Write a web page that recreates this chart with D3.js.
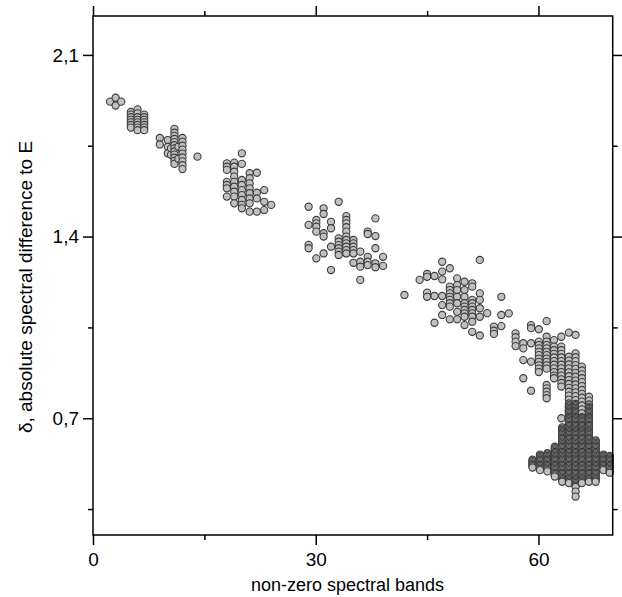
<!DOCTYPE html>
<html>
<head>
<meta charset="utf-8">
<script src="https://cdn.jsdelivr.net/npm/d3@7"></script>
<style>
  body { margin: 0; background: #fff; }
  svg { display: block; font-family: "Liberation Sans", Arial, sans-serif; }
</style>
</head>
<body>
<div id="chart"></div>
<script>
// axis ticks (value space)
const xMajorTicks = [0, 30, 60];
const xMinorTicks = [15, 45];
const yMajorTicks = [0.7, 1.4, 2.1];
const yMinorTicks = [0.35, 1.05, 1.75];

// each entry: [number of non-zero bands, [delta values stacked at that band]]
const bandsLow = [
  [2.3, [1.92]],
  [3.05, [1.935, 1.905]],
  [3.8, [1.92]],
  [5.1, [1.88, 1.87, 1.86, 1.85, 1.84, 1.83, 1.82]],
  [6.0, [1.89, 1.875, 1.86, 1.85, 1.84, 1.83, 1.82, 1.81]],
  [6.9, [1.87, 1.86, 1.85, 1.84, 1.83, 1.82, 1.81]],
  [9.0, [1.78, 1.755]],
  [10.07, [1.772, 1.746, 1.721]],
  [10.5, [1.74, 1.715]],
  [10.97, [1.815, 1.8, 1.788, 1.776, 1.764, 1.752, 1.74, 1.728, 1.716, 1.704, 1.692, 1.68]],
  [11.5, [1.746, 1.7]],
  [12.05, [1.78, 1.765, 1.75, 1.735, 1.72, 1.705, 1.69, 1.675, 1.66]],
  [14.07, [1.708]]
];

const bandsTwenty = [
  [18.03, [1.682, 1.669, 1.657, 1.611, 1.599, 1.586, 1.554]],
  [19.02, [1.685, 1.669, 1.65, 1.631, 1.611, 1.592, 1.573, 1.554, 1.528]],
  [20.05, [1.721, 1.68, 1.618, 1.599, 1.579, 1.56, 1.541, 1.522, 1.509]],
  [21.1, [1.644, 1.625, 1.605, 1.586, 1.567, 1.547, 1.528, 1.496]],
  [22.07, [1.646, 1.569, 1.547, 1.496]],
  [23.06, [1.579, 1.534, 1.502]],
  [24.0, [1.522]]
];

const bandsThirty = [
  [29.04, [1.515, 1.445, 1.368, 1.355]],
  [30.08, [1.464, 1.451, 1.438, 1.419, 1.316]],
  [31.06, [1.509, 1.487, 1.413, 1.4, 1.335]],
  [32.06, [1.457, 1.432, 1.361, 1.271]],
  [33.09, [1.534, 1.393, 1.38, 1.367, 1.355, 1.342, 1.329]],
  [34.12, [1.479, 1.464, 1.451, 1.436, 1.419, 1.4, 1.387, 1.374, 1.361, 1.348, 1.335]],
  [35.08, [1.387, 1.374, 1.361, 1.348, 1.335, 1.299]],
  [36.0, [1.342, 1.303, 1.284, 1.233]],
  [37.0, [1.419, 1.41, 1.322, 1.303, 1.29]],
  [38.04, [1.47, 1.402, 1.355, 1.297, 1.282]],
  [39.07, [1.322, 1.287]]
];

const bandsFifty = [
  [41.95, [1.175]],
  [44.0, [1.233]],
  [45.0, [1.256, 1.245, 1.184, 1.168]],
  [46.0, [1.248, 1.171, 1.068]],
  [47.03, [1.303, 1.265, 1.235, 1.171, 1.136, 1.098]],
  [48.06, [1.278, 1.207, 1.194, 1.181, 1.168, 1.156, 1.143, 1.13, 1.081]],
  [49.05, [1.239, 1.213, 1.194, 1.168, 1.143, 1.11, 1.081]],
  [50.04, [1.226, 1.194, 1.168, 1.143, 1.13, 1.117, 1.104, 1.091, 1.059]],
  [51.08, [1.22, 1.207, 1.156, 1.143, 1.13, 1.117, 1.104, 1.091, 1.072, 1.033]],
  [52.1, [1.31, 1.181, 1.156, 1.124, 1.091, 1.019]],
  [53.1, [1.105]],
  [54.0, [1.053, 1.037, 1.025]],
  [55.0, [1.168, 1.098, 1.055]],
  [56.0, [1.104]]
];

const bandsSixtyUpper = [
  [56.92, [1.027, 1.012, 0.995, 0.978]],
  [57.96, [0.989, 0.969, 0.924, 0.854]],
  [59.0, [1.059, 1.047, 0.989, 0.918, 0.806]],
  [60.05, [1.043, 0.995, 0.982, 0.969, 0.956, 0.943, 0.93, 0.917, 0.904, 0.891, 0.878]],
  [61.1, [1.074, 1.014, 0.995, 0.982, 0.969, 0.956, 0.943, 0.93, 0.917, 0.904, 0.891, 0.828, 0.815, 0.802, 0.789, 0.777]],
  [62.1, [1.001, 0.976, 0.962, 0.948, 0.934, 0.92, 0.906, 0.892, 0.878, 0.864, 0.854]],
  [63.08, [1.014, 0.976, 0.962, 0.948, 0.934, 0.92, 0.906, 0.892, 0.878, 0.864, 0.85, 0.836, 0.822, 0.7]]
];

const bandsSixtyDense = [
  [59.2, [0.54, 0.535, 0.53, 0.525, 0.52, 0.515, 0.51]],
  [60.2, [0.56, 0.555, 0.55, 0.545, 0.54, 0.535, 0.53, 0.525, 0.52, 0.515, 0.51, 0.505, 0.5]],
  [61.2, [0.565, 0.56, 0.555, 0.55, 0.545, 0.54, 0.535, 0.53, 0.525, 0.52, 0.515, 0.51, 0.505, 0.5, 0.495]],
  [62.2, [0.59, 0.585, 0.58, 0.575, 0.57, 0.565, 0.56, 0.555, 0.55, 0.545, 0.54, 0.535, 0.53, 0.525, 0.52,
          0.515, 0.51, 0.505, 0.5, 0.495, 0.49, 0.485, 0.48, 0.475]],
  [63.2, [0.665, 0.66, 0.655, 0.65, 0.645, 0.64, 0.635, 0.63, 0.625, 0.62, 0.615, 0.61, 0.605, 0.6, 0.595,
          0.59, 0.585, 0.58, 0.575, 0.57, 0.565, 0.56, 0.555, 0.55, 0.545, 0.54, 0.535, 0.53, 0.525, 0.52,
          0.515, 0.51, 0.505, 0.5, 0.495, 0.49, 0.485, 0.48, 0.475, 0.47, 0.465, 0.46, 0.455]],
  [64.1, [1.03, 0.937, 0.922, 0.907, 0.892, 0.877, 0.862, 0.847, 0.832, 0.817, 0.802, 0.787, 0.772, 0.757,
          0.75, 0.745, 0.74, 0.735, 0.73, 0.725, 0.72, 0.715, 0.71, 0.705, 0.7, 0.695, 0.69, 0.685, 0.68,
          0.675, 0.67, 0.665, 0.66, 0.655, 0.65, 0.645, 0.64, 0.635, 0.63, 0.625, 0.62, 0.615, 0.61, 0.605,
          0.6, 0.595, 0.59, 0.585, 0.58, 0.575, 0.57, 0.565, 0.56, 0.555, 0.55, 0.545, 0.54, 0.535, 0.53,
          0.525, 0.52, 0.515, 0.51, 0.505, 0.5, 0.495, 0.49, 0.485, 0.48, 0.475, 0.47, 0.465, 0.46, 0.455, 0.45]],
  [65.0, [1.021, 0.95, 0.935, 0.92, 0.905, 0.89, 0.875, 0.86, 0.845, 0.83, 0.815, 0.8, 0.785, 0.77, 0.755,
          0.75, 0.745, 0.74, 0.735, 0.73, 0.725, 0.72, 0.715, 0.71, 0.705, 0.7, 0.695, 0.69, 0.685, 0.68,
          0.675, 0.67, 0.665, 0.66, 0.655, 0.65, 0.645, 0.64, 0.635, 0.63, 0.625, 0.62, 0.615, 0.61, 0.605,
          0.6, 0.595, 0.59, 0.585, 0.58, 0.575, 0.57, 0.565, 0.56, 0.555, 0.55, 0.545, 0.54, 0.535, 0.53,
          0.525, 0.52, 0.515, 0.51, 0.505, 0.5, 0.495, 0.49, 0.485, 0.48, 0.475, 0.47, 0.465, 0.46, 0.455,
          0.45, 0.445, 0.44, 0.435, 0.417, 0.398]],
  [65.85, [0.899, 0.884, 0.869, 0.854, 0.839, 0.824, 0.809, 0.794, 0.779, 0.764, 0.749, 0.734, 0.719, 0.704,
           0.7, 0.695, 0.69, 0.685, 0.68, 0.675, 0.67, 0.665, 0.66, 0.655, 0.65, 0.645, 0.64, 0.635, 0.63,
           0.625, 0.62, 0.615, 0.61, 0.605, 0.6, 0.595, 0.59, 0.585, 0.58, 0.575, 0.57, 0.565, 0.56, 0.555,
           0.55, 0.545, 0.54, 0.535, 0.53, 0.525, 0.52, 0.515, 0.51, 0.505, 0.5, 0.495, 0.49, 0.485, 0.48,
           0.475, 0.47, 0.465, 0.46, 0.455, 0.45]],
  [66.8, [0.783, 0.768, 0.753, 0.745, 0.74, 0.735, 0.73, 0.725, 0.72, 0.715, 0.71, 0.705, 0.7, 0.695, 0.69,
          0.685, 0.68, 0.675, 0.67, 0.665, 0.66, 0.655, 0.65, 0.645, 0.64, 0.635, 0.63, 0.625, 0.62, 0.615,
          0.61, 0.605, 0.6, 0.595, 0.59, 0.585, 0.58, 0.575, 0.57, 0.565, 0.56, 0.555, 0.55, 0.545, 0.54,
          0.535, 0.53, 0.525, 0.52, 0.515, 0.51, 0.505, 0.5, 0.495, 0.49, 0.485, 0.48, 0.475, 0.47, 0.465,
          0.46, 0.455]],
  [67.7, [0.615, 0.61, 0.605, 0.6, 0.595, 0.59, 0.585, 0.58, 0.575, 0.57, 0.565, 0.56, 0.555, 0.55, 0.545,
          0.54, 0.535, 0.53, 0.525, 0.52, 0.515, 0.51, 0.505, 0.5, 0.495, 0.49, 0.485, 0.48, 0.475, 0.47,
          0.465, 0.46, 0.455]],
  [68.75, [0.56, 0.555, 0.55, 0.545, 0.54, 0.535, 0.53, 0.525, 0.52, 0.515, 0.51, 0.505, 0.5]],
  [69.6, [0.555, 0.55, 0.545, 0.54, 0.535, 0.53, 0.525, 0.52, 0.515, 0.51, 0.505, 0.5, 0.495, 0.49]]
];

const xTitle = "non-zero spectral bands";
const yTitle = "\u03b4, absolute spectral difference to E";

const width = 622;
const height = 597;
const margin = { top: 16, right: 9.3, bottom: 62, left: 93 };

const svg = d3.select("#chart")
  .append("svg")
  .attr("width", width)
  .attr("height", height);

const x = d3.scaleLinear()
  .domain([0, 70])
  .range([margin.left, width - margin.right]);

const y = d3.scaleLinear()
  .domain([0.25, 2.25])
  .range([height - margin.bottom, margin.top]);

// comma as decimal separator
const fmt = d3.formatLocale({ decimal: ",", thousands: ".", grouping: [3], currency: ["", ""] }).format(".1f");

const x0 = x.range()[0], x1 = x.range()[1];
const y0 = y.range()[0], y1 = y.range()[1];

function styleAxis(g) {
  g.select(".domain").remove();
  g.selectAll(".tick line").attr("stroke", "#000").attr("stroke-width", 1.5);
  g.selectAll(".tick text")
    .attr("fill", "#000")
    .attr("font-size", "19px")
    .attr("font-family", "'Liberation Sans', Arial, sans-serif");
}

// bottom axis
svg.append("g")
  .attr("transform", `translate(0,${y0})`)
  .call(d3.axisBottom(x).tickValues(xMajorTicks).tickSize(10).tickPadding(7.7).tickFormat(d3.format("d")))
  .call(styleAxis);
svg.append("g")
  .attr("transform", `translate(0,${y0})`)
  .call(d3.axisBottom(x).tickValues(xMinorTicks).tickSize(5).tickFormat(""))
  .call(styleAxis);

// top axis (no labels)
svg.append("g")
  .attr("transform", `translate(0,${y1})`)
  .call(d3.axisTop(x).tickValues(xMajorTicks).tickSize(10).tickFormat(""))
  .call(styleAxis);
svg.append("g")
  .attr("transform", `translate(0,${y1})`)
  .call(d3.axisTop(x).tickValues(xMinorTicks).tickSize(5).tickFormat(""))
  .call(styleAxis);

// left axis
svg.append("g")
  .attr("transform", `translate(${x0},0)`)
  .call(d3.axisLeft(y).tickValues(yMajorTicks).tickSize(10).tickPadding(4).tickFormat(fmt))
  .call(styleAxis);
svg.append("g")
  .attr("transform", `translate(${x0},0)`)
  .call(d3.axisLeft(y).tickValues(yMinorTicks).tickSize(5).tickFormat(""))
  .call(styleAxis);

// right axis (no labels)
svg.append("g")
  .attr("transform", `translate(${x1},0)`)
  .call(d3.axisRight(y).tickValues(yMajorTicks).tickSize(10).tickFormat(""))
  .call(styleAxis);
svg.append("g")
  .attr("transform", `translate(${x1},0)`)
  .call(d3.axisRight(y).tickValues(yMinorTicks).tickSize(5).tickFormat(""))
  .call(styleAxis);

// points, drawn column by column, top to bottom
const allColumns = [].concat(bandsLow, bandsTwenty, bandsThirty, bandsFifty, bandsSixtyUpper, bandsSixtyDense);
const points = [];
allColumns.forEach(([band, deltas]) => {
  deltas.forEach((d) => points.push({ band: band, delta: d }));
});

svg.append("g")
  .selectAll("circle")
  .data(points)
  .enter()
  .append("circle")
  .attr("cx", (d) => x(d.band))
  .attr("cy", (d) => y(d.delta))
  .attr("r", 3.6)
  .attr("fill", "#c0c0c0")
  .attr("stroke", "#3c3c3c")
  .attr("stroke-width", 1.1);

// frame
svg.append("rect")
  .attr("x", x0)
  .attr("y", y1)
  .attr("width", x1 - x0)
  .attr("height", y0 - y1)
  .attr("fill", "none")
  .attr("stroke", "#000")
  .attr("stroke-width", 1.5);

// axis titles
svg.append("text")
  .attr("x", 347.5)
  .attr("y", 591)
  .attr("text-anchor", "middle")
  .attr("font-size", "18px")
  .attr("fill", "#000")
  .text(xTitle);

svg.append("text")
  .attr("transform", `translate(32,287) rotate(-90)`)
  .attr("text-anchor", "middle")
  .attr("font-size", "19px")
  .attr("fill", "#000")
  .text(yTitle);
</script>
</body>
</html>
